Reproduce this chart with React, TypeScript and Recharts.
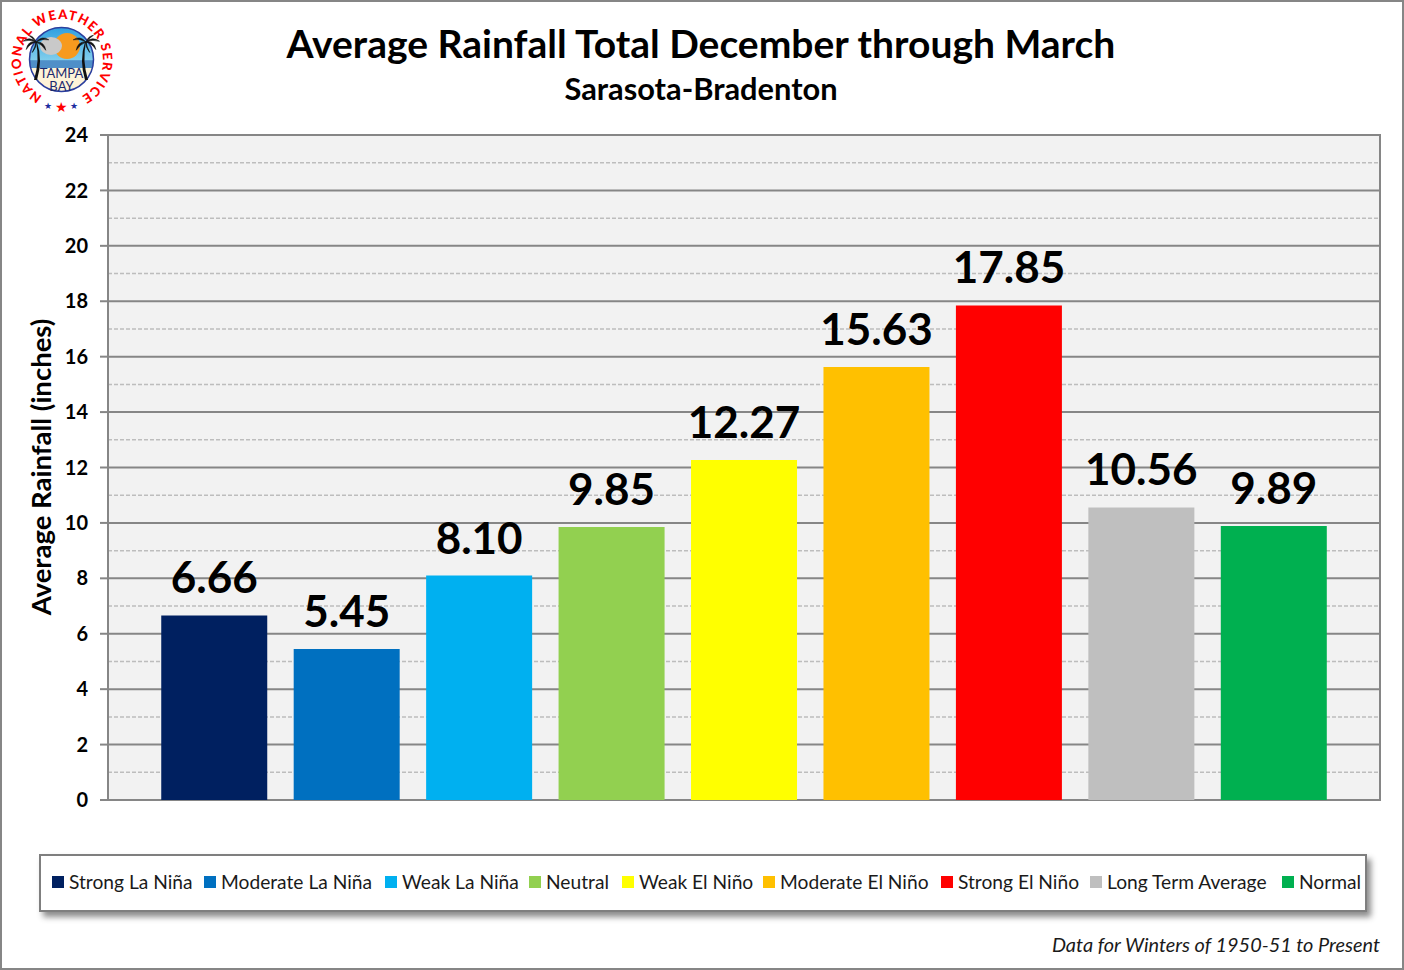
import React from "react";
import { BarChart, Bar, Cell, XAxis, YAxis, CartesianGrid, LabelList, Legend, usePlotArea } from "recharts";

const categories = ["Strong La Niña", "Moderate La Niña", "Weak La Niña", "Neutral", "Weak El Niño", "Moderate El Niño", "Strong El Niño", "Long Term Average", "Normal"];
const rainfall = [6.66, 5.45, 8.1, 9.85, 12.27, 15.63, 17.85, 10.56, 9.89];
const colors = ["#002060", "#0070C0", "#00B0F0", "#92D050", "#FFFF00", "#FFC000", "#FF0000", "#BFBFBF", "#00B050"];
const majorTicks = [0, 2, 4, 6, 8, 10, 12, 14, 16, 18, 20, 22, 24];
const minorTicks = [1, 3, 5, 7, 9, 11, 13, 15, 17, 19, 21, 23];

const rows = categories.map((name, i) => ({ name, value: rainfall[i] }));
const legendLeft = [11, 163, 344, 488, 581, 722, 900, 1049, 1241];
const FONT = "Lato, 'Open Sans', sans-serif";
const GREY = "#868686";

function PlotBorder() {
  const p = usePlotArea();
  if (!p) return null;
  return <rect x={p.x} y={p.y} width={p.width} height={p.height} fill="none" stroke={GREY} strokeWidth={2} />;
}

function LegendBox() {
  return (
    <div style={{ position: "relative", boxSizing: "border-box", width: "100%", height: "100%", background: "#fff", border: "2px solid #7f7f7f", boxShadow: "4px 5px 6px rgba(0,0,0,0.45)", fontFamily: FONT, fontSize: 19.2, color: "#1a1a1a", whiteSpace: "nowrap" }}>
      {categories.map((c, i) => (
        <span key={c} style={{ position: "absolute", left: legendLeft[i], top: 13, lineHeight: "26px", display: "inline-flex", alignItems: "center" }}>
          <span style={{ width: 12, height: 12, background: colors[i], marginRight: 5 }} />
          {c}
        </span>
      ))}
    </div>
  );
}

function Palm({ x, flip }: { x: number; flip: number }) {
  const leaves = [
    "M 0 0 Q -8 -8 -18 -1 Q -9 -4 0 0",
    "M 0 0 Q 8 -9 17 -3 Q 8 -5 0 0",
    "M 0 0 Q -11 -2 -13 10 Q -8 2 0 0",
    "M 0 0 Q 11 -1 13 11 Q 8 3 0 0",
    "M 0 0 Q -3 -8 -10 -9 Q -4 -5 0 0",
    "M 0 0 Q -1 6 -5 14 Q 1 7 0 0",
  ];
  return (
    <g transform={`translate(${x} 42) scale(${flip} 1)`}>
      <path d="M 0 0 Q 4 18 -2 38 L 1 38 Q 7 18 1 0 Z" fill="#111" />
      <g transform="scale(0.75)">
        {leaves.map((d) => <path key={d} d={d} fill="#111" stroke="#111" strokeWidth={0.8} />)}
      </g>
    </g>
  );
}

function Logo() {
  const stars = [[48, 106, 3], [61, 107, 4.5], [74, 106, 3]];
  return (
    <svg width={130} height={125} style={{ position: "absolute", left: 0, top: 0 }}>
      <defs>
        <linearGradient id="sky" x1="0" y1="0" x2="0" y2="1">
          <stop offset="0" stopColor="#2f9fe0" />
          <stop offset="0.5" stopColor="#7fcdec" />
          <stop offset="0.52" stopColor="#4f8fc8" />
          <stop offset="0.63" stopColor="#4f8fc8" />
          <stop offset="0.64" stopColor="#fdf3d8" />
          <stop offset="1" stopColor="#fdf3d8" />
        </linearGradient>
        <path id="ring" d="M 62 101 A 41 41 0 1 1 62.1 101" />
      </defs>
      <circle cx={61.5} cy={59.5} r={32} fill="url(#sky)" stroke="#2b3f9e" strokeWidth={1.5} />
      <circle cx={67} cy={46} r={13} fill="#f79a1e" />
      <ellipse cx={51} cy={46} rx={11} ry={9} fill="#c9c9c9" />
      <Palm x={36} flip={1} />
      <Palm x={86} flip={-1} />
      <text x={61.5} y={78} textAnchor="middle" fontFamily={FONT} fontSize={13} fill="#1c2a6e">TAMPA</text>
      <text x={61.5} y={91} textAnchor="middle" fontFamily={FONT} fontSize={13} fill="#1c2a6e">BAY</text>
      <text fontFamily={FONT} fontWeight={900} fontSize={13} fill="#ff0000">
        <textPath href="#ring" startOffset="50%" textAnchor="middle" textLength={216}>NATIONAL WEATHER SERVICE</textPath>
      </text>
      {stars.map(([x, y, s], i) => (
        <text key={i} x={x} y={y + s} textAnchor="middle" fontSize={s * 3} fill={i === 1 ? "#ff0000" : "#1c2a9e"}>★</text>
      ))}
    </svg>
  );
}

export default function App() {
  return (
    <div style={{ position: "absolute", left: 0, top: 0, width: 1404, height: 970, background: "#fff", boxSizing: "border-box", overflow: "hidden" }}>
      <BarChart
        width={1404}
        height={970}
        data={rows}
        margin={{ top: 135, right: 24, bottom: 112, left: 48 }}
        barCategoryGap="10%"
      >
        <CartesianGrid horizontal vertical={false} fill="#f2f2f2" stroke={GREY} strokeWidth={2} horizontalValues={majorTicks} />
        <CartesianGrid horizontal vertical={false} stroke="#bdbdbd" strokeWidth={1.5} strokeDasharray="4 2" horizontalValues={minorTicks} />
        <XAxis dataKey="name" padding={{ left: 40, right: 40 }} tick={false} tickLine={false} axisLine={false} height={0} />
        <YAxis
          width={60}
          domain={[0, 24]}
          ticks={majorTicks}
          interval={0}
          tickSize={8}
          tickMargin={12}
          axisLine={false}
          tickLine={{ stroke: GREY, strokeWidth: 2 }}
          tick={{ fontFamily: FONT, fontWeight: 700, fontSize: 20, fill: "#000" }}
        />
        <Bar dataKey="value" isAnimationActive={false}>
          {rows.map((r, i) => <Cell key={r.name} fill={colors[i]} />)}
          <LabelList dataKey="value" position="top" offset={22} formatter={(v: number) => v.toFixed(2)} style={{ fontFamily: FONT, fontWeight: 700, fontSize: 44, fill: "#000" }} />
        </Bar>
        <PlotBorder />
        <Legend content={<LegendBox />} wrapperStyle={{ position: "absolute", left: 39, top: 854, width: 1328, height: 58, bottom: "auto" }} />
      </BarChart>

      <div style={{ position: "absolute", left: 0, top: 0, width: 1404, height: 970, boxSizing: "border-box", border: "2px solid #868686", pointerEvents: "none" }} />
      <div style={{ position: "absolute", left: 0, width: 1402, top: 20, textAlign: "center", fontFamily: FONT, fontWeight: 700, fontSize: 39, lineHeight: "46px", color: "#000" }}>Average Rainfall Total December through March</div>
      <div style={{ position: "absolute", left: 0, width: 1402, top: 71, textAlign: "center", fontFamily: FONT, fontWeight: 700, fontSize: 30.8, lineHeight: "36px", color: "#000" }}>Sarasota-Bradenton</div>
      <div style={{ position: "absolute", left: 40, top: 467, width: 0, height: 0, display: "flex", alignItems: "center", justifyContent: "center", transform: "rotate(-90deg)", fontFamily: FONT, fontWeight: 700, fontSize: 27.5, color: "#000", whiteSpace: "nowrap" }}>Average Rainfall (inches)</div>
      <div style={{ position: "absolute", right: 24, top: 931, fontFamily: FONT, fontStyle: "italic", fontSize: 19.9, lineHeight: "26px", color: "#1a1a1a" }}>Data for Winters of 1950-51 to Present</div>
      <Logo />
    </div>
  );
}
